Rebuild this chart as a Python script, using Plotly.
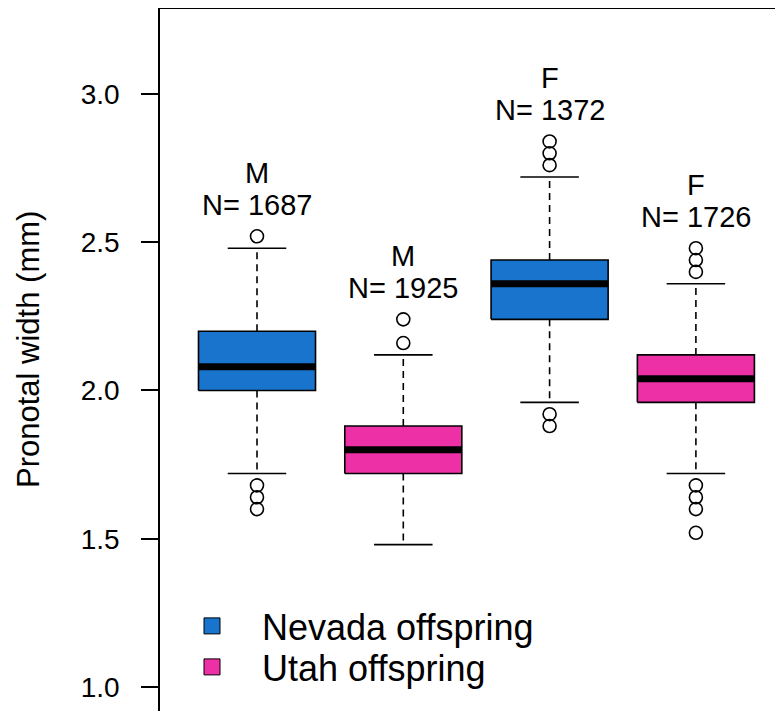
import plotly.graph_objects as go

# ---- data ----
groups = ["Nevada M", "Utah M", "Nevada F", "Utah F"]
population = ["Nevada offspring", "Utah offspring", "Nevada offspring", "Utah offspring"]
sex = ["M", "M", "F", "F"]
n_obs = [1687, 1925, 1372, 1726]
q1 = [2.00, 1.72, 2.24, 1.96]
median = [2.08, 1.80, 2.36, 2.04]
q3 = [2.20, 1.88, 2.44, 2.12]
lower_whisker = [1.72, 1.48, 1.96, 1.72]
upper_whisker = [2.48, 2.12, 2.72, 2.36]
outliers = [
    [2.52, 1.68, 1.64, 1.60],
    [2.24, 2.16],
    [2.84, 2.80, 2.76, 1.92, 1.88],
    [2.48, 2.44, 2.40, 1.68, 1.64, 1.60, 1.52],
]
y_ticks = [1.0, 1.5, 2.0, 2.5, 3.0]
y_tick_labels = ["1.0", "1.5", "2.0", "2.5", "3.0"]
y_title = "Pronotal width (mm)"
legend_names = ["Nevada offspring", "Utah offspring"]

# ---- styles / layout ----
colors = {"Nevada offspring": "#1874CD", "Utah offspring": "#EE30A7"}
FONT = "Liberation Sans, Arial, sans-serif"
half_box = 0.4
half_staple = 0.2
W, H = 783, 711
ML, MT = 152, 1
PW, PH = W - ML, H - MT


def px_x(fx):  # figure pixel -> paper x
    return (fx - ML) / PW


def px_y(fy):  # figure pixel -> paper y
    return (H - fy) / PH


fig = go.Figure()

for i, g in enumerate(groups):
    xc = i + 1
    col = colors[population[i]]
    # whiskers (dashed)
    fig.add_trace(go.Scatter(
        x=[xc, xc, None, xc, xc],
        y=[q3[i], upper_whisker[i], None, q1[i], lower_whisker[i]],
        mode="lines", line=dict(color="black", width=1.6, dash="7px,5px"),
        showlegend=False, hoverinfo="skip"))
    # staples
    fig.add_trace(go.Scatter(
        x=[xc - half_staple, xc + half_staple, None, xc - half_staple, xc + half_staple],
        y=[upper_whisker[i], upper_whisker[i], None, lower_whisker[i], lower_whisker[i]],
        mode="lines", line=dict(color="black", width=1.6),
        showlegend=False, hoverinfo="skip"))
    # box
    fig.add_trace(go.Scatter(
        x=[xc - half_box, xc + half_box, xc + half_box, xc - half_box, xc - half_box],
        y=[q1[i], q1[i], q3[i], q3[i], q1[i]],
        mode="lines", fill="toself", fillcolor=col,
        line=dict(color="black", width=1.6),
        showlegend=False, hoverinfo="skip"))
    # median
    fig.add_trace(go.Scatter(
        x=[xc - half_box, xc + half_box], y=[median[i], median[i]],
        mode="lines", line=dict(color="black", width=7),
        showlegend=False, hoverinfo="skip"))
    # outliers
    fig.add_trace(go.Scatter(
        x=[xc] * len(outliers[i]), y=outliers[i],
        mode="markers",
        marker=dict(symbol="circle-open", size=13, color="black", line=dict(width=1.6)),
        showlegend=False, hoverinfo="skip"))
    # labels above
    top = max(outliers[i] + [upper_whisker[i]])
    fig.add_annotation(x=xc, y=top, text=f"N= {n_obs[i]}", showarrow=False,
                       yshift=31, yanchor="middle",
                       font=dict(family=FONT, size=29, color="black"))
    fig.add_annotation(x=xc, y=top, text=sex[i], showarrow=False,
                       yshift=63, yanchor="middle",
                       font=dict(family=FONT, size=29, color="black"))

# y-axis title
fig.add_annotation(xref="paper", yref="paper", x=px_x(20), y=px_y(342),
                   text=y_title, textangle=-90, showarrow=False,
                   xanchor="center", yanchor="middle",
                   font=dict(family=FONT, size=31, color="black"))

# legend entries (one legend per row to control row spacing)
legend_ids = ["legend", "legend2"]
for name, lid in zip(legend_names, legend_ids):
    fig.add_trace(go.Scatter(
        x=[None], y=[None], mode="markers", name=name, legend=lid,
        marker=dict(symbol="square", size=24, color=colors[name],
                    line=dict(color="black", width=1))))

legend_style = dict(xanchor="left", yanchor="middle", itemwidth=90,
                    font=dict(family=FONT, size=36, color="black"),
                    bgcolor="rgba(0,0,0,0)")

fig.update_layout(
    width=W, height=H,
    margin=dict(l=ML, r=0, t=MT, b=0, autoexpand=False),
    paper_bgcolor="white", plot_bgcolor="white",
    font=dict(family=FONT, color="black"),
    showlegend=True,
    legend=dict(x=px_x(154), y=px_y(618), **legend_style),
    legend2=dict(x=px_x(154), y=px_y(659), **legend_style),
    xaxis=dict(range=[0.337, 4.650], side="top", showline=True, linecolor="black",
               linewidth=1.5, showticklabels=False, ticks="", showgrid=False,
               zeroline=False),
    yaxis=dict(range=[0.892, 3.2867], showline=True, linecolor="black", linewidth=1.5,
               tickvals=y_ticks, ticktext=y_tick_labels, ticks="outside", ticklen=17,
               tickwidth=1.5, tickcolor="black", ticklabelstandoff=16,
               tickfont=dict(family=FONT, size=28, color="black"),
               showgrid=False, zeroline=False),
)

fig.write_html("out.html")
